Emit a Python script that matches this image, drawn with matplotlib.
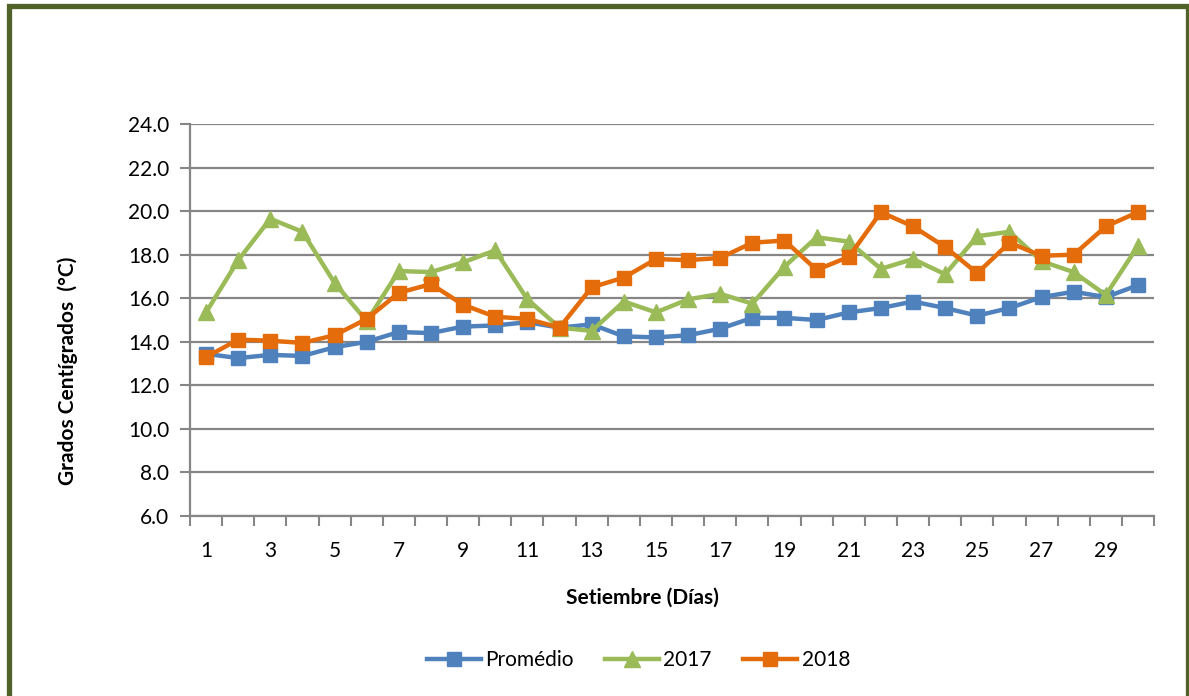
import numpy as np
import matplotlib
matplotlib.use("Agg")
import matplotlib.pyplot as plt
from matplotlib.patches import Rectangle

plt.rcParams['font.family'] = ['Lato', 'DejaVu Sans']

# Data
dias = list(range(1, 31))
promedio = [13.45, 13.25, 13.4, 13.35, 13.75, 14.0, 14.45, 14.4, 14.7, 14.75,
            14.9, 14.65, 14.8, 14.25, 14.2, 14.3, 14.6, 15.1, 15.1, 15.0,
            15.35, 15.55, 15.85, 15.55, 15.2, 15.55, 16.05, 16.3, 16.05, 16.6]
t2017 = [15.35, 17.75, 19.65, 19.05, 16.7, 14.95, 17.25, 17.2, 17.65, 18.2,
         15.95, 14.65, 14.5, 15.85, 15.35, 15.95, 16.2, 15.75, 17.45, 18.8,
         18.6, 17.35, 17.8, 17.1, 18.85, 19.05, 17.7, 17.2, 16.15, 18.4]
t2018 = [13.3, 14.1, 14.05, 13.95, 14.3, 15.05, 16.25, 16.65, 15.7, 15.15,
         15.05, 14.65, 16.5, 16.95, 17.8, 17.75, 17.85, 18.55, 18.65, 17.3,
         17.9, 19.95, 19.3, 18.35, 17.15, 18.55, 17.95, 18.0, 19.3, 19.95]
yticks = np.arange(6, 24.1, 2)

azul = '#4F81BD'
verde = '#9BBB59'
naranja = '#E46C0A'
gris = '#868686'

fig = plt.figure(figsize=(11.89, 6.96), dpi=100, facecolor='w')
ax = fig.add_axes([0.1598, 0.2586, 0.8108, 0.5632])

ax.plot(dias, promedio, color=azul, linewidth=3.2, marker='s', markersize=9.5,
        label='Promédio', zorder=3)
ax.plot(dias, t2017, color=verde, linewidth=3.2, marker='^', markersize=12,
        label='2017', zorder=3)
ax.plot(dias, t2018, color=naranja, linewidth=3.2, marker='s', markersize=9.5,
        label='2018', zorder=4)

# Axes styling (Excel look)
ax.set_xlim(0.5, 30.5)
ax.set_ylim(6, 24)
ax.set_yticks(yticks)
ax.set_yticklabels(['%.1f' % v for v in yticks])
ax.yaxis.grid(True, color=gris, linewidth=1.6)
ax.set_axisbelow(True)
ax.set_xticks(np.arange(0.5, 31, 1))
ax.set_xticklabels([])
ax.set_xticks(dias[::2], minor=True)
ax.set_xticklabels([str(d) for d in dias[::2]], minor=True)
ax.tick_params(axis='x', which='major', length=7, width=1.5, color=gris)
ax.tick_params(axis='x', which='minor', length=0, pad=18, labelsize=15)
ax.tick_params(axis='y', length=7, width=1.5, color=gris, labelsize=15, pad=8)
for s in ['top', 'right']:
    ax.spines[s].set_visible(False)
for s in ['left', 'bottom']:
    ax.spines[s].set_color(gris)
    ax.spines[s].set_linewidth(1.6)

fig.text(0.057, 0.467, 'Grados Centígrados  (°C)', rotation=90, ha='center',
         va='center', fontsize=15, fontweight='bold')
fig.text(0.54, 0.142, 'Setiembre (Días)', ha='center', va='center',
         fontsize=15, fontweight='bold')

fig.legend(loc='center', bbox_to_anchor=(0.537, 0.052), ncol=3, frameon=False,
           fontsize=15, handlelength=2.6, columnspacing=1.5, handletextpad=0.2)

# Outer border of the chart
fig.patches.append(Rectangle((0.0072, -0.1), 0.9920, 1.0907, transform=fig.transFigure,
                             fill=False, edgecolor='#4F6228', linewidth=3.8))

fig.savefig('out.png', dpi=100, facecolor='w')
